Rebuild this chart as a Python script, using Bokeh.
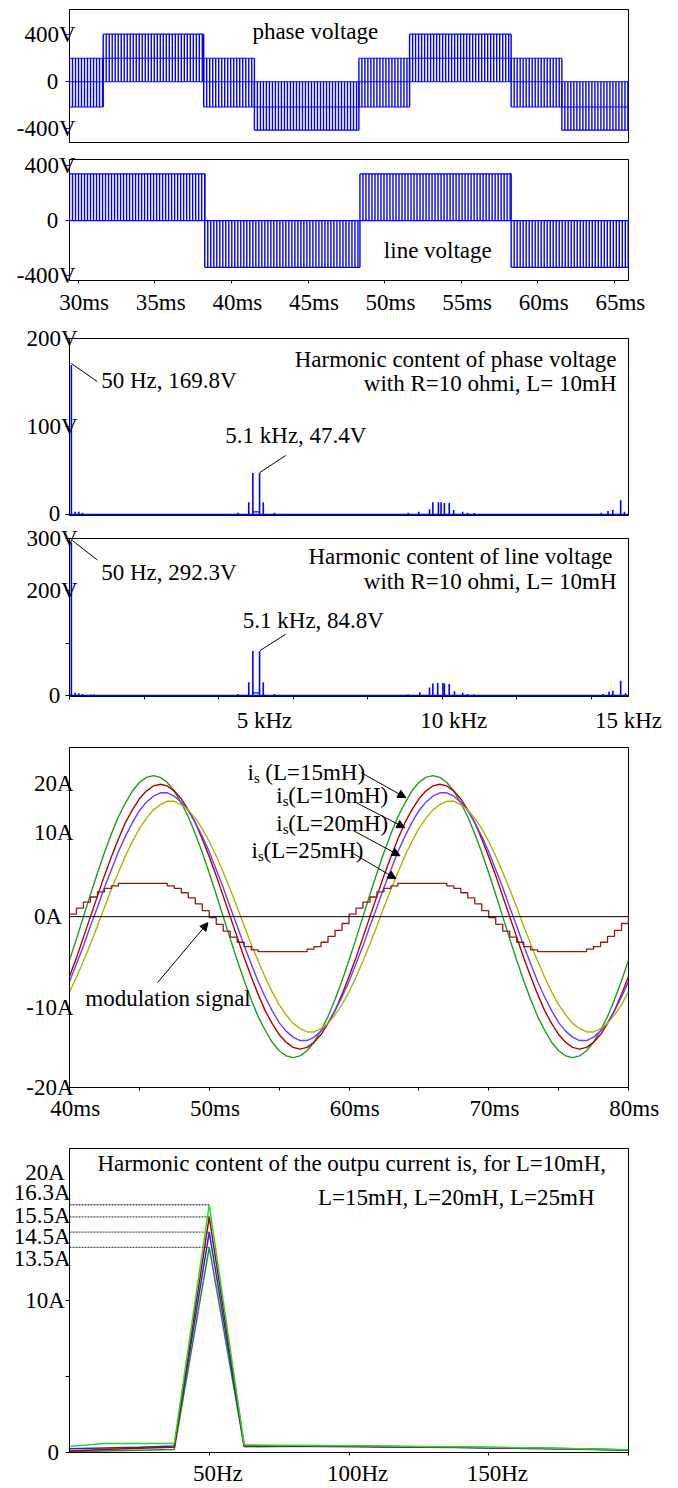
import numpy as np
from bokeh.plotting import figure
from bokeh.layouts import column
from bokeh.models import FixedTicker, Range1d, Span, Arrow, NormalHead
from bokeh.embed import file_html
from bokeh.resources import INLINE
from bokeh.core.properties import value

FONT = "Liberation Serif"
FS = "23px"
NB = "\u00a0"
W = 678

# ------------------------------------------------------------------ DATA
# Panel A: phase voltage, PWM sections (ms) and switching levels (V)
phase_t_start = [29.42, 31.62, 38.18, 41.49, 48.31, 51.62, 58.25, 61.56]
phase_t_end = [31.62, 38.18, 41.49, 48.31, 51.62, 58.25, 61.56, 65.91]
phase_high = [200, 405, 200, 0, 200, 405, 200, 0]
phase_mid = [0, 200, 0, -215, 0, 200, 0, -215]
phase_low = [-215, 0, -215, -412, -215, 0, -215, -412]
# Panel B: line voltage sections
line_t_start = [29.42, 38.25, 48.38, 58.25]
line_t_end = [38.25, 48.38, 58.25, 65.91]
line_high = [340, 0, 340, 0]
line_low = [0, -340, 0, -340]
carrier_khz = 5.1
time_ticks_ms = [30, 35, 40, 45, 50, 55, 60, 65]

# Panel C: harmonic content of phase voltage (kHz, V)
phase_spec_khz = [0.05, 0.15, 0.25, 0.35, 4.52, 4.81, 4.92, 5.10, 5.20, 5.50,
                  9.09, 9.37, 9.66, 9.75, 9.90, 9.97, 10.06, 10.19, 10.31, 10.55,
                  10.68, 10.86, 14.27, 14.45, 14.58, 14.79, 14.89]
phase_spec_v = [169.8, 3, 3, 2, 2, 14, 47, 47.4, 14, 2,
                2, 3, 6, 14, 14, 14, 13, 13, 5, 3,
                2, 1.5, 2, 4, 5, 16, 3]
phase_pair_khz = [4.92, 5.10]
phase_pair_floor_v = 3

# Panel D: harmonic content of line voltage (kHz, V)
line_spec_khz = [0.05, 0.15, 0.25, 0.35, 0.58, 0.66, 4.52, 4.81, 4.92, 5.10, 5.20, 5.50,
                 9.09, 9.40, 9.66, 9.75, 9.88, 10.02, 10.06, 10.19, 10.33, 10.55,
                 10.68, 10.86, 14.32, 14.48, 14.58, 14.79, 14.92]
line_spec_v = [292.3, 5, 4, 3, 2, 2, 3, 25, 85, 84.8, 25, 3,
               2, 6, 15, 23, 24, 24, 23, 22, 8, 5,
               3, 2, 3, 7, 9, 28, 4]
line_pair_khz = [4.92, 5.10]
line_pair_floor_v = 5
freq_ticks_khz = [5, 10, 15]
freq_minor_khz = [0, 2, 4, 6, 8, 10, 12, 14]

# Panel E: output currents, one 20 ms period sampled every 0.5 ms from 40 ms
sample_ms = 0.5
is_L15 = [-5.1, -2.6, 0.0, 2.6, 5.1, 7.5, 9.7, 11.7, 13.3, 14.7, 15.7, 16.3, 16.5, 16.3, 15.7,
          14.7, 13.3, 11.7, 9.7, 7.5, 5.1, 2.6, 0.0, -2.6, -5.1, -7.5, -9.7, -11.7, -13.3, -14.7,
          -15.7, -16.3, -16.5, -16.3, -15.7, -14.7, -13.3, -11.7, -9.7, -7.5]
is_L10 = [-7.0, -4.8, -2.4, 0.0, 2.4, 4.8, 7.0, 9.1, 11.0, 12.5, 13.8, 14.7, 15.3, 15.5, 15.3,
          14.7, 13.8, 12.5, 11.0, 9.1, 7.0, 4.8, 2.4, 0.0, -2.4, -4.8, -7.0, -9.1, -11.0, -12.5,
          -13.8, -14.7, -15.3, -15.5, -15.3, -14.7, -13.8, -12.5, -11.0, -9.1]
is_L20 = [-7.6, -5.5, -3.4, -1.1, 1.1, 3.4, 5.5, 7.6, 9.4, 11.0, 12.4, 13.4, 14.1, 14.5, 14.5,
          14.1, 13.4, 12.4, 11.0, 9.4, 7.6, 5.5, 3.4, 1.1, -1.1, -3.4, -5.5, -7.6, -9.4, -11.0,
          -12.4, -13.4, -14.1, -14.5, -14.5, -14.1, -13.4, -12.4, -11.0, -9.4]
is_L25 = [-8.8, -7.1, -5.2, -3.2, -1.1, 1.1, 3.2, 5.2, 7.1, 8.8, 10.3, 11.5, 12.5, 13.1, 13.5,
          13.5, 13.1, 12.5, 11.5, 10.3, 8.8, 7.1, 5.2, 3.2, 1.1, -1.1, -3.2, -5.2, -7.1, -8.8,
          -10.3, -11.5, -12.5, -13.1, -13.5, -13.5, -13.1, -12.5, -11.5, -10.3]
modulation = [0.3, 1.0, 1.7, 2.3, 2.9, 3.3, 3.6, 3.9, 3.9, 3.9, 3.9, 3.9, 3.9, 3.9,
              3.6, 3.3, 2.8, 2.2, 1.5, 0.7, -0.1, -0.9, -1.7, -2.4, -3.0, -3.5, -3.9,
              -4.1, -4.1, -4.1, -4.1, -4.1, -4.1, -4.1, -3.8, -3.5, -3.0, -2.3, -1.6, -0.8]
current_ticks_ms = [40, 50, 60, 70, 80]
current_minor_ms = [45, 55, 65, 75]

# Panel F: harmonic content of output current (Hz, A)
harm_f_hz = [0, 12.5, 25, 37.5, 50, 62.5, 75, 87.5, 100, 112.5, 125, 137.5, 150, 162.5, 175, 187.5, 200]
harm_L15 = [0.4, 0.6, 0.6, 0.6, 16.3, 0.5, 0.48, 0.46, 0.44, 0.42, 0.4, 0.38, 0.35, 0.32, 0.28, 0.23, 0.18]
harm_L10 = [0.1, 0.2, 0.28, 0.35, 15.5, 0.45, 0.44, 0.43, 0.42, 0.4, 0.38, 0.36, 0.33, 0.3, 0.26, 0.22, 0.17]
harm_L20 = [0.25, 0.3, 0.35, 0.42, 14.5, 0.42, 0.42, 0.41, 0.4, 0.38, 0.36, 0.34, 0.31, 0.28, 0.25, 0.21, 0.16]
harm_L25 = [0.05, 0.1, 0.15, 0.2, 13.5, 0.38, 0.4, 0.4, 0.39, 0.37, 0.35, 0.33, 0.3, 0.27, 0.24, 0.2, 0.15]
harm_ticks_hz = [50, 100, 150]

# ------------------------------------------------------------------ STYLE
PWM_BLUE = "#0000ff"
C_GREEN = "#1aa01a"
C_RED = "#b00000"
C_BLUE = "#6a3dff"
C_YELLOW = "#b5b000"
C_BROWN = "#8b1c1c"
F_GREEN = "#22dd22"
F_DGREEN = "#2a8a2a"


def base(h, left, right, top, bottom, xr, yr):
    p = figure(width=W, height=h, x_range=Range1d(*xr), y_range=Range1d(*yr),
               output_backend="svg", toolbar_location=None,
               min_border_left=left, min_border_right=W - right,
               min_border_top=top, min_border_bottom=bottom)
    p.xgrid.visible = False
    p.ygrid.visible = False
    p.outline_line_color = "black"
    p.outline_line_alpha = 1.0
    p.outline_line_width = 1
    p.background_fill_color = "white"
    p.border_fill_color = "white"
    for ax in (p.xaxis[0], p.yaxis[0]):
        ax.major_label_text_font = FONT
        ax.major_label_text_font_size = FS
        ax.major_label_text_font_style = "normal"
        ax.major_label_text_color = "black"
        ax.axis_line_color = "black"
        ax.major_tick_line_color = "black"
        ax.minor_tick_line_color = "black"
        ax.major_tick_in = 0
        ax.minor_tick_in = 0
        ax.minor_tick_out = 0
    return p


def txt(p, x, y, s, align="left", size=FS, xo=0, yo=0):
    p.text(x=[x], y=[y], text=[s], text_font=value(FONT), text_font_size=size,
           text_align=align, text_baseline="middle", text_color="black",
           x_offset=xo, y_offset=yo)


def draw_pwm(p, t0s, t1s, los, his, mids=None):
    period = 1.0 / carrier_khz
    xs, y0, y1 = [], [], []
    for a, b, lo, hi in zip(t0s, t1s, los, his):
        ts = np.append(np.arange(a, b, period), b)
        xs.extend(ts)
        y0.extend([lo] * len(ts))
        y1.extend([hi] * len(ts))
    p.segment(x0=xs, y0=y0, x1=xs, y1=y1, line_color=PWM_BLUE, line_width=1.4)
    levels = [los, his] + (mids or [])
    hx0, hx1, hy = [], [], []
    for lv in levels:
        hx0 += list(t0s)
        hx1 += list(t1s)
        hy += list(lv)
    p.segment(x0=hx0, y0=hy, x1=hx1, y1=hy, line_color=PWM_BLUE, line_width=1.2)


def draw_spec(p, f, a, pair_f, pair_v):
    p.add_layout(Span(location=0, dimension="width", line_color=PWM_BLUE, line_width=1.5))
    p.segment(x0=f, y0=[0] * len(f), x1=f, y1=a, line_color=PWM_BLUE, line_width=1.6)
    p.line(x=pair_f, y=[pair_v, pair_v], line_color=PWM_BLUE, line_width=1.3)


# ------------------------------------------------------------------ A: phase voltage
pA = base(150, 66, 628, 9, 8, (29.42, 65.91), (-517, 615))
pA.xaxis.visible = False
ya = pA.yaxis[0]
ya.ticker = FixedTicker(ticks=[-400, 0, 400])
ya.major_label_overrides = {400: "400V", 0: "0" + NB * 3, -400: "-400V"}
ya.major_tick_out = 4
ya.major_tick_line_color = "blue"
ya.major_label_standoff = -10
draw_pwm(pA, phase_t_start, phase_t_end, phase_low, phase_high, [phase_mid])
txt(pA, 41.36, 428, "phase voltage")

# ------------------------------------------------------------------ B: line voltage
pB = base(170, 66, 628, 9, 40, (29.42, 65.91), (-436, 444))
yb = pB.yaxis[0]
yb.ticker = FixedTicker(ticks=[-400, 0, 400])
yb.major_label_overrides = {400: "400V", 0: "0" + NB * 3, -400: "-400V"}
yb.major_tick_out = 4
yb.major_tick_line_color = "blue"
yb.major_label_standoff = -10
xb = pB.xaxis[0]
xb.ticker = FixedTicker(ticks=time_ticks_ms)
xb.major_label_overrides = {t: NB * 2 + f"{t}ms" for t in time_ticks_ms}
xb.major_tick_out = 3
xb.major_label_standoff = 6
draw_pwm(pB, line_t_start, line_t_end, line_low, line_high)
txt(pB, 49.94, -218, "line voltage")

# ------------------------------------------------------------------ C: phase spectrum
pC = base(205, 65, 629, 18, 10, (0, 15), (-1.2, 200))
pC.xaxis.visible = False
yc = pC.yaxis[0]
yc.ticker = FixedTicker(ticks=[0, 100, 200])
yc.major_label_overrides = {200: "200V", 100: "100V", 0: "0" + NB * 3}
yc.major_tick_out = 4
yc.major_label_standoff = -12
draw_spec(pC, phase_spec_khz, phase_spec_v, phase_pair_khz, phase_pair_floor_v)
pC.segment(x0=[0.05, 5.80], y0=[171.6, 67], x1=[0.745, 5.11], y1=[151, 47.7], line_color="black", line_width=1)
txt(pC, 0.85, 152, "50 Hz, 169.8V")
txt(pC, 4.18, 90, "5.1 kHz, 47.4V")
txt(pC, 14.68, 176, "Harmonic content of phase voltage", align="right")
txt(pC, 14.68, 149, "with R=10 ohmi, L= 10mH", align="right")

# ------------------------------------------------------------------ D: line spectrum
pD = base(210, 65, 629, 13, 36, (0, 15), (-2, 300))
yd = pD.yaxis[0]
yd.ticker = FixedTicker(ticks=[0, 200, 300], minor_ticks=[100])
yd.major_label_overrides = {300: "300V", 200: "200V", 0: "0" + NB * 3}
yd.major_tick_out = 4
yd.minor_tick_out = 4
yd.major_label_standoff = -12
xd = pD.xaxis[0]
xd.ticker = FixedTicker(ticks=freq_ticks_khz, minor_ticks=freq_minor_khz)
xd.major_label_overrides = {5: NB * 3 + "5 kHz", 10: NB * 4 + "10 kHz", 15: "15 kHz"}
xd.major_tick_out = 0
xd.minor_tick_out = 3
xd.major_label_standoff = 8
draw_spec(pD, line_spec_khz, line_spec_v, line_pair_khz, line_pair_floor_v)
pD.segment(x0=[0.08, 5.80], y0=[296, 117], x1=[0.745, 5.11], y1=[259, 85.7], line_color="black", line_width=1)
txt(pD, 0.85, 234.6, "50 Hz, 292.3V")
txt(pD, 4.65, 143.4, "5.1 kHz, 84.8V")
txt(pD, 14.57, 266.3, "Harmonic content of line voltage", align="right")
txt(pD, 14.68, 217.9, "with R=10 ohmi, L= 10mH", align="right")

# ------------------------------------------------------------------ E: currents
pE = base(395, 63, 628, 12, 43, (40, 80), (-20, 19.8))
ye = pE.yaxis[0]
ye.ticker = FixedTicker(ticks=[15.56, 9.82, 0, -10.64, -20])
ye.major_label_overrides = {15.56: "20A", 9.82: "10A", 0: "0A" + NB * 2, -10.64: "-10A", -20: "-20A"}
ye.major_tick_out = 0
ye.major_label_standoff = -4
xe = pE.xaxis[0]
xe.ticker = FixedTicker(ticks=current_ticks_ms, minor_ticks=current_minor_ms)
xe.major_label_overrides = {t: NB * 2 + f"{t}ms" for t in current_ticks_ms}
xe.major_tick_out = 3
xe.minor_tick_out = 3
xe.major_label_standoff = 5

n_per = len(is_L15)
t_grid = 40 + sample_ms * np.arange(2 * n_per + 1)


def two_periods(v):
    v = np.asarray(v, dtype=float)
    return np.concatenate([v, v, v[:1]])


for arr, col in ((is_L15, C_GREEN), (is_L10, C_RED), (is_L20, C_BLUE), (is_L25, C_YELLOW)):
    pE.line(x=t_grid, y=two_periods(arr), line_color=col, line_width=1.4)
pE.step(x=t_grid, y=two_periods(modulation), mode="after", line_color=C_BROWN, line_width=1.3)
pE.add_layout(Span(location=0, dimension="width", line_color="black", line_width=1))

is_labels = [(52.74, 16.84, NB + "(L=15mH)"), (54.8, 14.15, "(L=10mH)"),
             (54.8, 10.88, "(L=20mH)"), (53.03, 7.72, "(L=25mH)")]
for x, y, rest in is_labels:
    txt(pE, x, y, "i")
    txt(pE, x, y, "s", size="15px", xo=6.5, yo=5)
    txt(pE, x, y, rest, xo=12)
arrows = [(60.88, 16.84, 64.07, 13.92), (60.53, 13.33, 64.0, 10.41),
          (60.32, 10.06, 63.65, 7.13), (60.32, 7.37, 63.36, 4.44),
          (46.3, -7.72, 49.91, -0.70)]
for xs_, ys_, xe_, ye_ in arrows:
    pE.add_layout(Arrow(end=NormalHead(size=8, fill_color="black", line_color="black"),
                        x_start=xs_, y_start=ys_, x_end=xe_, y_end=ye_,
                        line_color="black", line_width=1))
txt(pE, 41.13, -9.59, "modulation signal")

# ------------------------------------------------------------------ F: current harmonics
pF = base(358, 69, 628, 18, 36, (0, 200), (0, 20))
yf = pF.yaxis[0]
yf.ticker = FixedTicker(ticks=[18.43, 17.12, 15.62, 14.18, 12.75, 10, 0], minor_ticks=[0, 5, 10])
yf.major_label_overrides = {18.43: "20A" + NB, 17.12: "16.3A", 15.62: "15.5A", 14.18: "14.5A",
                            12.75: "13.5A", 10: "10A" + NB, 0: "0" + NB * 2}
yf.major_tick_out = 0
yf.minor_tick_out = 4
yf.major_label_standoff = -5
xf = pF.xaxis[0]
xf.ticker = FixedTicker(ticks=harm_ticks_hz, minor_ticks=[200])
xf.major_label_overrides = {h: NB * 3 + f"{h}Hz" for h in harm_ticks_hz}
xf.major_tick_out = 3
xf.minor_tick_out = 3
xf.major_label_standoff = 5

peaks = [max(a) for a in (harm_L15, harm_L10, harm_L20, harm_L25)]
pF.segment(x0=[harm_f_hz[0]] * 4, y0=peaks, x1=[harm_f_hz[4]] * 4, y1=peaks,
           line_color="#555555", line_dash="2 1", line_width=1.3)
for arr, col in ((harm_L25, F_DGREEN), (harm_L20, "#2222ff"), (harm_L10, C_RED), (harm_L15, F_GREEN)):
    pF.line(x=harm_f_hz, y=arr, line_color=col, line_width=1.5)
txt(pF, 10, 19.01, "Harmonic content of the outpu current is, for L=10mH,")
txt(pF, 88.9, 16.78, "L=15mH, L=20mH, L=25mH")

layout = column(pA, pB, pC, pD, pE, pF, spacing=0)
open("out.html", "w").write(file_html(layout, INLINE))
